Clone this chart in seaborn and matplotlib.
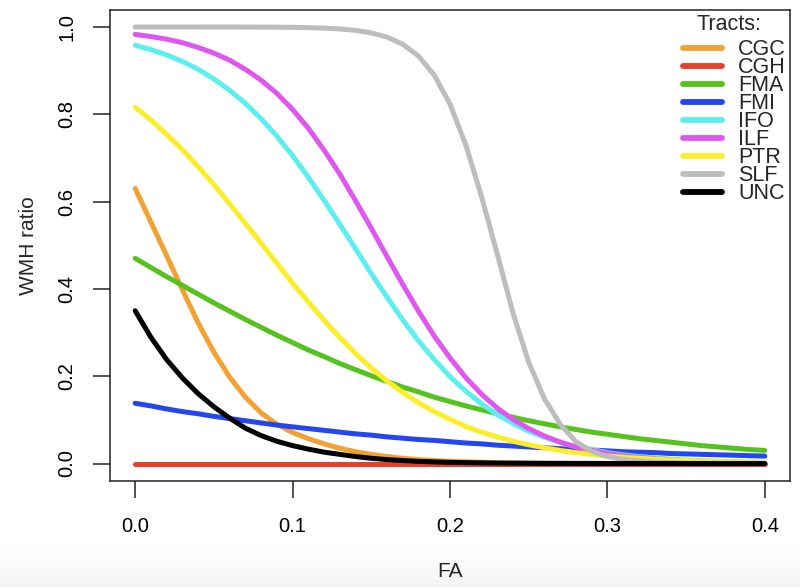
import numpy as np
import pandas as pd
import seaborn as sns
import matplotlib.pyplot as plt

# FA sampling grid
fa = [0.00, 0.01, 0.02, 0.03, 0.04, 0.05, 0.06, 0.07, 0.08, 0.09,
      0.10, 0.11, 0.12, 0.13, 0.14, 0.15, 0.16, 0.17, 0.18, 0.19,
      0.20, 0.21, 0.22, 0.23, 0.24, 0.25, 0.26, 0.27, 0.28, 0.29,
      0.30, 0.31, 0.32, 0.33, 0.34, 0.35, 0.36, 0.37, 0.38, 0.39, 0.40]

cgc = [0.630, 0.553, 0.476, 0.398, 0.322, 0.255, 0.198, 0.152, 0.116, 0.090,
       0.071, 0.057, 0.045, 0.035, 0.027, 0.021, 0.016, 0.012, 0.009, 0.007,
       0.005, 0.004, 0.003, 0.002, 0.0015, 0.001, 0.0008, 0.0006, 0.0004, 0.0003,
       0.0002, 0.0002, 0.0001, 0.0001, 0.0001, 0.0001, 0.0, 0.0, 0.0, 0.0, 0.0]
cgh = [0.0] * 41
fma = [0.470, 0.449, 0.428, 0.408, 0.388, 0.368, 0.349, 0.330, 0.312, 0.294,
       0.277, 0.260, 0.245, 0.229, 0.215, 0.201, 0.188, 0.175, 0.164, 0.152,
       0.142, 0.132, 0.123, 0.114, 0.106, 0.098, 0.091, 0.084, 0.078, 0.072,
       0.067, 0.062, 0.057, 0.053, 0.049, 0.045, 0.041, 0.038, 0.035, 0.032, 0.030]
fmi = [0.138, 0.132, 0.125, 0.119, 0.114, 0.108, 0.103, 0.098, 0.093, 0.088,
       0.084, 0.080, 0.076, 0.072, 0.068, 0.065, 0.061, 0.058, 0.055, 0.053,
       0.050, 0.047, 0.045, 0.042, 0.040, 0.038, 0.036, 0.034, 0.032, 0.031,
       0.029, 0.027, 0.026, 0.025, 0.023, 0.022, 0.021, 0.020, 0.019, 0.018, 0.017]
ifo = [0.958, 0.948, 0.936, 0.921, 0.903, 0.881, 0.855, 0.825, 0.790, 0.750,
       0.705, 0.656, 0.603, 0.548, 0.492, 0.435, 0.381, 0.329, 0.281, 0.238,
       0.199, 0.166, 0.137, 0.112, 0.092, 0.074, 0.060, 0.049, 0.039, 0.032,
       0.025, 0.020, 0.016, 0.013, 0.010, 0.0083, 0.0066, 0.0053, 0.0042, 0.0034, 0.0027]
ilf = [0.983, 0.978, 0.972, 0.964, 0.953, 0.940, 0.924, 0.903, 0.878, 0.848,
       0.811, 0.768, 0.718, 0.663, 0.602, 0.539, 0.474, 0.410, 0.349, 0.292,
       0.242, 0.197, 0.159, 0.127, 0.101, 0.080, 0.063, 0.049, 0.038, 0.030,
       0.023, 0.018, 0.014, 0.011, 0.008, 0.0064, 0.005, 0.0038, 0.003, 0.0023, 0.0018]
ptr = [0.816, 0.787, 0.754, 0.719, 0.680, 0.639, 0.595, 0.550, 0.505, 0.459,
       0.413, 0.370, 0.328, 0.289, 0.252, 0.219, 0.189, 0.163, 0.139, 0.119,
       0.101, 0.085, 0.072, 0.061, 0.051, 0.043, 0.036, 0.030, 0.025, 0.021,
       0.017, 0.0146, 0.0121, 0.0101, 0.0084, 0.0070, 0.0059, 0.0049, 0.0041, 0.0034, 0.0028]
slf = [1.000, 1.000, 1.000, 1.000, 1.000, 0.9999, 0.9999, 0.9998, 0.9997, 0.9995,
       0.9991, 0.9985, 0.9974, 0.9955, 0.9922, 0.9865, 0.9768, 0.9604, 0.9334, 0.8899,
       0.8235, 0.730, 0.612, 0.480, 0.345, 0.232, 0.148, 0.090, 0.050, 0.028,
       0.016, 0.0095, 0.0058, 0.0034, 0.002, 0.0012, 0.0007, 0.0004, 0.0002, 0.0001, 0.0001]
unc = [0.350, 0.289, 0.238, 0.196, 0.160, 0.130, 0.104, 0.081, 0.064, 0.051,
       0.041, 0.033, 0.026, 0.021, 0.016, 0.012, 0.009, 0.0068, 0.005, 0.0037,
       0.0027, 0.002, 0.0015, 0.0011, 0.0008, 0.0006, 0.0004, 0.0003, 0.0002, 0.0002,
       0.0001, 0.0001, 0.0001, 0.0001, 0.0001, 0.0, 0.0, 0.0, 0.0, 0.0, 0.0]

tracts = ["CGC", "CGH", "FMA", "FMI", "IFO", "ILF", "PTR", "SLF", "UNC"]
values = [cgc, cgh, fma, fmi, ifo, ilf, ptr, slf, unc]
colors = {"CGC": "#F2A132", "CGH": "#E5412D", "FMA": "#56C21F", "FMI": "#2446EE",
          "IFO": "#5DEEF0", "ILF": "#DF56F0", "PTR": "#FAEE2B", "SLF": "#BDBDBD",
          "UNC": "#000000"}

df = pd.DataFrame({
    "FA": fa * len(tracts),
    "WMH ratio": [v for vals in values for v in vals],
    "Tract": np.repeat(tracts, len(fa)),
})

sns.set_style("ticks")
plt.rcParams["font.family"] = ["Liberation Sans", "DejaVu Sans"]

fig = plt.figure(figsize=(8, 5.87), dpi=100)

# faint grey fade at the bottom edge of the screenshot
bg = fig.add_axes([0, 0, 1, 42 / 587], zorder=-1)
bg.imshow(np.linspace(0, 1, 60).reshape(-1, 1), cmap="Greys", vmin=0, vmax=11, aspect="auto")
bg.axis("off")

ax = fig.add_axes([0.1375, 0.1806, 0.85, 0.8032])
sns.lineplot(data=df, x="FA", y="WMH ratio", hue="Tract", hue_order=tracts,
             palette=colors, linewidth=3.6, solid_capstyle="round", ax=ax)

ax.set_xlim(-0.016, 0.416)
ax.set_ylim(-0.04, 1.04)
ax.set_xticks([0.0, 0.1, 0.2, 0.3, 0.4])
ax.set_yticks([0.0, 0.2, 0.4, 0.6, 0.8, 1.0])
ax.tick_params(bottom=True, left=True, length=12, width=1.1, labelsize=14.5, pad=14,
               direction="out", color="#222222", labelcolor="black")
ax.tick_params(axis="y", labelrotation=90, pad=12)
for lab in ax.get_yticklabels():
    lab.set_va("center")
for sp in ax.spines.values():
    sp.set_visible(True)
    sp.set_linewidth(1.1)
    sp.set_color("#222222")

ax.set_xlabel("FA", fontsize=15)
ax.set_ylabel("WMH ratio", fontsize=15)
ax.xaxis.set_label_coords(0.5, -0.193)
ax.xaxis.label.set_va("center")
ax.yaxis.set_label_coords(-0.12, 0.5)
ax.yaxis.label.set_va("center")

# legend entries, with the "Tracts:" heading set a little above them
sns.move_legend(ax, "upper right", bbox_to_anchor=(0.994, 0.937), frameon=False,
                title=None, fontsize=15.5,
                handlelength=1.8, handletextpad=0.75, labelspacing=-0.14,
                borderpad=0, borderaxespad=0)
for h in ax.get_legend().legend_handles:
    h.set_linewidth(4.2)
    h.set_solid_capstyle("round")
ax.text(0.91, 0.969, "Tracts:", transform=ax.transAxes, fontsize=15.5,
        ha="center", va="center")

fig.savefig("out.png", dpi=100)
